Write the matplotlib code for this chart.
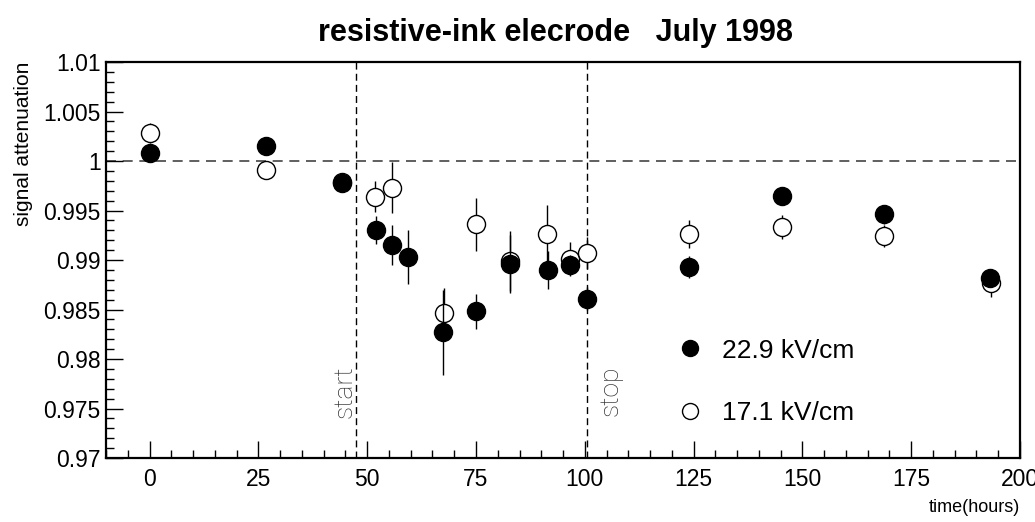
import matplotlib
matplotlib.use("Agg")
import matplotlib.pyplot as plt
from matplotlib.lines import Line2D
from matplotlib.ticker import MultipleLocator, FixedLocator

plt.rcParams["font.family"] = ["Liberation Sans", "DejaVu Sans"]

# ---------------------------------------------------------------------------
# Data
# ---------------------------------------------------------------------------
# 22.9 kV/cm (filled)
t_hi = [0, 26.7, 44.3, 52.0, 55.8, 59.4, 67.5, 74.9, 82.7, 91.5, 96.7, 100.5, 124.0, 145.4, 168.7, 193.1]
att_hi = [1.0008, 1.0015, 0.9978, 0.9930, 0.9915, 0.9903, 0.9827, 0.9848, 0.9896, 0.9890, 0.9895,
          0.9861, 0.9893, 0.9965, 0.9946, 0.9882]
err_hi = [0.0004, 0.0005, 0.0005, 0.0014, 0.0020, 0.0027, 0.0043, 0.0018, 0.0029, 0.0019, 0.0010,
          0.0012, 0.0011, 0.0006, 0.0010, 0.0008]

# 17.1 kV/cm (open)
t_lo = [0, 26.7, 44.3, 51.8, 55.8, 67.7, 74.9, 82.7, 91.4, 96.7, 100.5, 124.0, 145.4, 168.7, 193.4]
att_lo = [1.0028, 0.9991, 0.9979, 0.9964, 0.9973, 0.9846, 0.9936, 0.9899, 0.9926, 0.9901, 0.9907,
          0.9926, 0.9933, 0.9924, 0.9877]
err_lo = [0.0010, 0.0009, 0.0004, 0.0016, 0.0026, 0.0026, 0.0027, 0.0030, 0.0030, 0.0017, 0.0016,
          0.0014, 0.0012, 0.0011, 0.0014]

labels = ["22.9 kV/cm", "17.1 kV/cm"]
t_start, t_stop = 47.5, 100.5

x_ticks = [0, 25, 50, 75, 100, 125, 150, 175, 200]
y_ticks = [0.97, 0.975, 0.98, 0.985, 0.99, 0.995, 1.0, 1.005, 1.01]
y_ticklabels = ["0.97", "0.975", "0.98", "0.985", "0.99", "0.995", "1", "1.005", "1.01"]

# ---------------------------------------------------------------------------
# Plot
# ---------------------------------------------------------------------------
fig = plt.figure(figsize=(10.35, 5.22), dpi=100)
ax = fig.add_axes([0.1025, 0.1226, 0.8830, 0.7586])

ax.axhline(1.0, color="#444444", lw=1.2, dashes=(6, 4), zorder=1)
ax.axvline(t_start, color="black", lw=1.0, dashes=(5, 3), zorder=1)
ax.axvline(t_stop, color="black", lw=1.0, dashes=(5, 3), zorder=1)

ax.errorbar(t_lo, att_lo, yerr=err_lo, fmt="o", ms=13, mfc="white", mec="black", mew=1.0,
            ecolor="black", elinewidth=1.0, capsize=0, zorder=3)
ax.errorbar(t_hi, att_hi, yerr=err_hi, fmt="o", ms=13, mfc="black", mec="black",
            ecolor="black", elinewidth=1.0, capsize=0, zorder=4)

ax.text(44.7, 0.9767, "start", rotation=90, ha="center", va="center",
        fontsize=19, family=["Roboto", "DejaVu Sans"], fontweight="light", color="#333333")
ax.text(106.0, 0.9768, "stop", rotation=90, ha="center", va="center",
        fontsize=19, family=["Roboto", "DejaVu Sans"], fontweight="light", color="#333333")

ax.set_xlim(-10, 200)
ax.set_ylim(0.97, 1.01)
ax.xaxis.set_major_locator(FixedLocator(x_ticks))
ax.xaxis.set_minor_locator(MultipleLocator(5))
ax.set_yticks(y_ticks)
ax.set_yticklabels(y_ticklabels)
ax.yaxis.set_minor_locator(MultipleLocator(0.001))

ax.tick_params(which="both", direction="in", top=False, right=False, labelsize=16.5, color="black")
ax.tick_params(which="major", length=12, width=1.0)
ax.tick_params(which="minor", length=6, width=1.0)
ax.tick_params(axis="x", pad=7)
ax.tick_params(axis="y", pad=4)
for s in ax.spines.values():
    s.set_linewidth(1.6)

ax.set_ylabel("signal attenuation", fontsize=15, loc="top", labelpad=7)
ax.set_xlabel("time(hours)", fontsize=13, loc="right", labelpad=6)

fig.text(0.537, 0.936, "resistive-ink elecrode   July 1998", ha="center", va="center",
         fontsize=22, fontweight="bold")

handles = [
    Line2D([], [], ls="none", marker="o", ms=11.5, mfc="black", mec="black"),
    Line2D([], [], ls="none", marker="o", ms=11.5, mfc="white", mec="black", mew=1.0),
]
ax.legend(handles, labels, loc="upper left", bbox_to_anchor=(0.613, 0.335), frameon=False,
          fontsize=19, handlelength=0.8, handletextpad=0.8, labelspacing=1.45, borderpad=0.0)

fig.savefig("out.png", dpi=100)
